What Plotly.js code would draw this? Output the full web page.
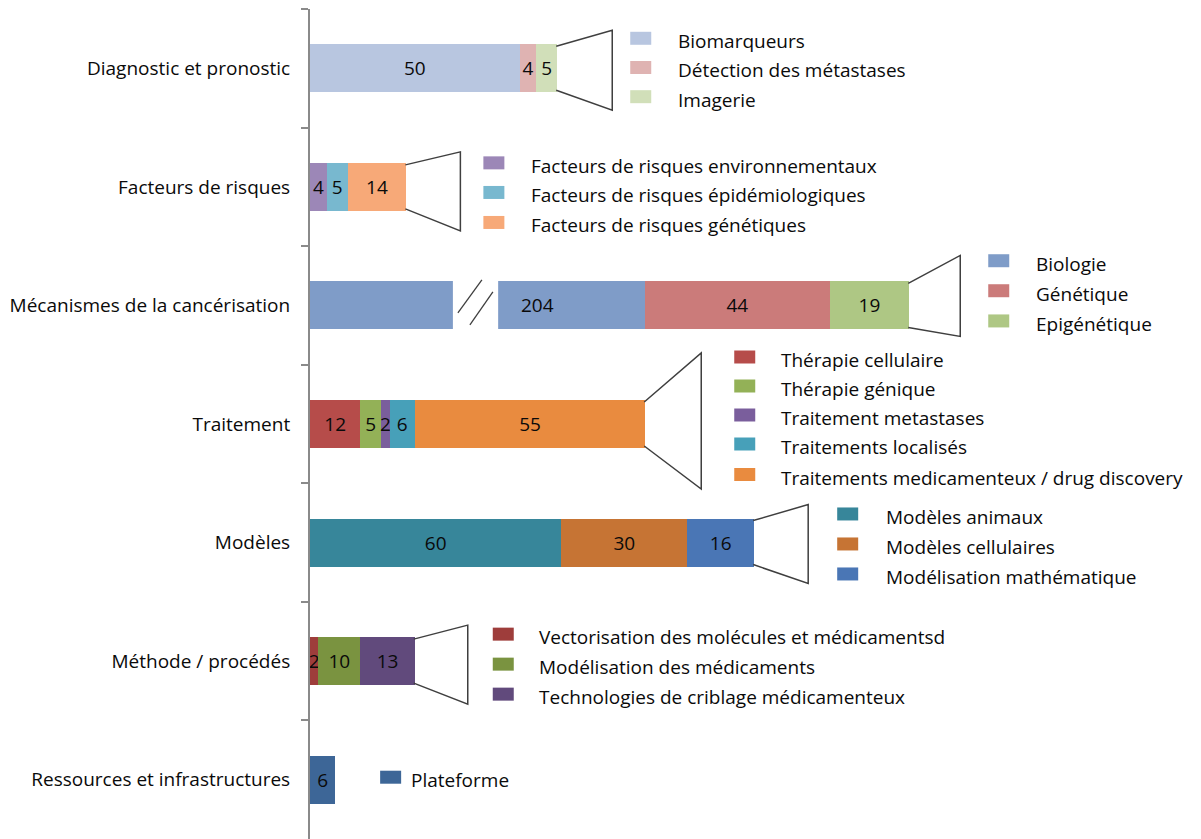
<!DOCTYPE html>
<html><head><meta charset="utf-8">
<script src="https://cdn.plot.ly/plotly-3.0.1.min.js"></script>
<style>html,body{margin:0;padding:0;background:#fff}#chart{width:1201px;height:839px}</style>
</head><body><div id="chart"></div>
<script>
// ---------------- DATA ----------------
const categories = ["Diagnostic et pronostic", "Facteurs de risques", "Mécanismes de la cancérisation",
  "Traitement", "Modèles", "Méthode / procédés", "Ressources et infrastructures"];

const diagnosticLabels = ["Biomarqueurs", "Détection des métastases", "Imagerie"];
const diagnosticValues = [50, 4, 5];

const facteursLabels = ["Facteurs de risques environnementaux", "Facteurs de risques épidémiologiques", "Facteurs de risques génétiques"];
const facteursValues = [4, 5, 14];

const mecanismesLabels = ["Biologie", "Génétique", "Epigénétique"];
const mecanismesValues = [204, 44, 19];

const traitementLabels = ["Thérapie cellulaire", "Thérapie génique", "Traitement metastases", "Traitements localisés", "Traitements medicamenteux / drug discovery"];
const traitementValues = [12, 5, 2, 6, 55];

const modelesLabels = ["Modèles animaux", "Modèles cellulaires", "Modélisation mathématique"];
const modelesValues = [60, 30, 16];

const methodeLabels = ["Vectorisation des molécules et médicamentsd", "Modélisation des médicaments", "Technologies de criblage médicamenteux"];
const methodeValues = [2, 10, 13];

const ressourcesLabels = ["Plateforme"];
const ressourcesValues = [6];

// ---------------- STYLE ----------------
const diagnosticColors = ["#b8c6e0", "#dfb3b2", "#d1dfb9"];
const facteursColors = ["#9c87b7", "#78b8cf", "#f7a978"];
const mecanismesColors = ["#7f9cc8", "#cb7b7a", "#aec784"];
const traitementColors = ["#b64c4a", "#93b157", "#7a5e9c", "#47a0b9", "#e98b3f"];
const modelesColors = ["#37869a", "#c67434", "#4a76b5"];
const methodeColors = ["#9e3d3b", "#7a9340", "#614a7c"];
const ressourcesColors = ["#3d6697"];

const groupLabels = [diagnosticLabels, facteursLabels, mecanismesLabels, traitementLabels, modelesLabels, methodeLabels, ressourcesLabels];
const groupValues = [diagnosticValues, facteursValues, mecanismesValues, traitementValues, modelesValues, methodeValues, ressourcesValues];
const groupColors = [diagnosticColors, facteursColors, mecanismesColors, traitementColors, modelesColors, methodeColors, ressourcesColors];

// broken axis on the "Biologie" bar: that many units are cut out of the bar
const AXIS_BREAK = 124;
const BREAK_FROM = 34.1, BREAK_TO = 44.9;   // position of the break gap (display units)
const BREAK_LABEL_X = 54.2;                 // where the value label of the broken bar sits

// per group: callout (trapezoid) and legend layout, pixels relative to bar end / category centre (down positive)
const legendLayout = [
  {call: true,  dx: 55, top: -38, bottom: 42, sqX: 73, txX: 119, items: [-30, -0.8, 28.4]},
  {call: true,  dx: 54, top: -35, bottom: 44, sqX: 77, txX: 123, items: [-24, 5.6, 35.6]},
  {call: true,  dx: 51, top: -50, bottom: 31, sqX: 79, txX: 125, items: [-44.7, -14.7, 15.5]},
  {call: true,  dx: 56, top: -71, bottom: 65, sqX: 89, txX: 134, items: [-67, -38, -9, 20, 50.5]},
  {call: true,  dx: 54, top: -38, bottom: 41, sqX: 83, txX: 130, items: [-28.6, 1.4, 31.4]},
  {call: true,  dx: 53, top: -36, bottom: 43, sqX: 78, txX: 122, items: [-27, 3, 33]},
  {call: false, sqX: 45, txX: 74, items: [-2.5]}
];

const FONT = "'Open Sans', sans-serif";
const FS = 19;
const TXT = "#0a0a0a";
const LINE = "#3f3f3f";

// ---------------- BUILD ----------------
const traces = [];
const shapes = [];
const annotations = [];

groupValues.forEach((vals, g) => {
  let end = 0;
  vals.forEach((v, j) => {
    const broken = (g === 2 && j === 0);
    const shown = broken ? v - AXIS_BREAK : v;
    end += shown;
    traces.push({
      type: "bar", orientation: "h",
      y: [categories[g]], x: [shown],
      name: groupLabels[g][j],
      text: [broken ? "" : String(v)],
      texttemplate: "%{text}",
      textposition: "inside", insidetextanchor: "middle",
      constraintext: "none", textangle: 0,
      insidetextfont: {family: FONT, size: FS, color: TXT},
      marker: {color: groupColors[g][j], line: {width: 0}},
      hoverinfo: "none", showlegend: false
    });
    if (broken) {
      annotations.push({x: BREAK_LABEL_X, y: categories[g], xref: "x", yref: "y",
        text: String(v), showarrow: false, font: {family: FONT, size: FS, color: TXT}});
    }
  });

  const L = legendLayout[g];
  if (L.call) {
    shapes.push({
      type: "path", xref: "x", yref: "y",
      xsizemode: "pixel", ysizemode: "pixel", xanchor: end, yanchor: g,
      path: `M-1,${22} L${L.dx},${-L.top} L${L.dx},${-L.bottom} L-1,${-22}`,
      line: {color: LINE, width: 1.5}, fillcolor: "rgba(0,0,0,0)"
    });
  }
  L.items.forEach((iy, j) => {
    shapes.push({
      type: "rect", xref: "x", yref: "y",
      xsizemode: "pixel", ysizemode: "pixel", xanchor: end, yanchor: g,
      x0: L.sqX, x1: L.sqX + 21, y0: -(iy - 6.5), y1: -(iy + 6.5),
      fillcolor: groupColors[g][j], line: {width: 0}
    });
    annotations.push({
      x: end, y: categories[g], xref: "x", yref: "y",
      xanchor: "left", yanchor: "middle",
      xshift: L.txX, yshift: -(iy + 3),
      text: groupLabels[g][j], showarrow: false,
      font: {family: FONT, size: FS, color: TXT}
    });
  });
});

// axis break decoration on the Biologie bar
shapes.push({type: "rect", xref: "x", yref: "y", ysizemode: "pixel", yanchor: 2,
  x0: BREAK_FROM, x1: BREAK_TO, y0: -30, y1: 30, fillcolor: "#ffffff", line: {width: 0}});
shapes.push({type: "path", xref: "x", yref: "y", xsizemode: "pixel", ysizemode: "pixel",
  xanchor: BREAK_FROM, yanchor: 2, path: "M5,-7.5 L29,25.5", line: {color: LINE, width: 1.3}});
shapes.push({type: "path", xref: "x", yref: "y", xsizemode: "pixel", ysizemode: "pixel",
  xanchor: BREAK_FROM, yanchor: 2, path: "M17,-19.5 L40,13.5", line: {color: LINE, width: 1.3}});

const layout = {
  width: 1201, height: 839,
  margin: {l: 310, r: 11, t: 9, b: 0, pad: 0},
  paper_bgcolor: "#ffffff", plot_bgcolor: "#ffffff",
  barmode: "stack", bargap: 0.595,
  showlegend: false,
  xaxis: {range: [0, 210], visible: false, fixedrange: true},
  yaxis: {
    type: "category", categoryorder: "array", categoryarray: categories,
    range: [6.5, -0.5], tickson: "boundaries", ticks: "outside", ticklen: 7,
    tickwidth: 2, tickcolor: "#8a8a8a", showline: true, linecolor: "#8a8a8a", linewidth: 2,
    showgrid: false, zeroline: false, ticklabelstandoff: 14,
    tickfont: {family: FONT, size: FS, color: TXT}, fixedrange: true
  },
  shapes: shapes,
  annotations: annotations
};

Plotly.newPlot("chart", traces, layout, {displayModeBar: false, staticPlot: true});
</script></body></html>
